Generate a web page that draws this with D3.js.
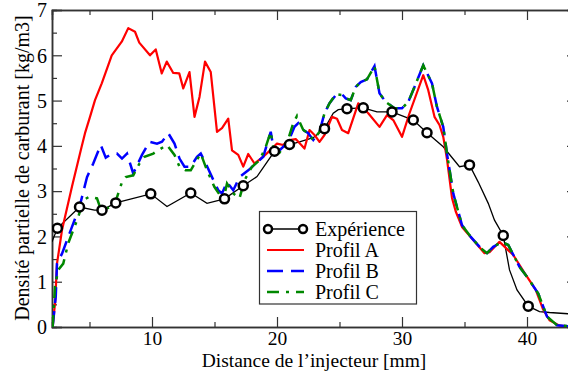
<!DOCTYPE html>
<html><head><meta charset="utf-8">
<script src="https://cdn.jsdelivr.net/npm/d3@7/dist/d3.min.js"></script>
<style>body{margin:0;background:#fff}svg{display:block}text{font-family:"Liberation Serif","DejaVu Serif",serif;fill:#000}</style>
</head><body><svg id="c" width="568" height="374"></svg>
<script>
const xTicksMajor = [10, 20, 30, 40];
const xTicksMinor = [5, 15, 25, 35];
const yTicksMajor = [0, 1, 2, 3, 4, 5, 6, 7];
const yTicksMinor = [0.5, 1.5, 2.5, 3.5, 4.5, 5.5, 6.5];
const seriesNames = ["Expérience", "Profil A", "Profil B", "Profil C"];

const expLine = [[2.0,1.88],[2.43,2.18],[4.2,2.65],[5.4,2.58],[6.0,2.58],[7.1,2.74],[9.9,2.94],[11.2,2.66],[13.1,2.96],[14.4,2.73],[15.8,2.83],[17.3,3.12],[18.4,3.32],[19.8,3.88],[21.0,4.03],[21.8,4.09],[22.9,4.18],[23.8,4.38],[24.5,4.72],[24.9,4.8],[25.6,4.82],[26.9,4.84],[28.0,4.75],[29.2,4.75],[30.9,4.57],[32.0,4.29],[33.3,3.98],[34.6,3.54],[35.4,3.58],[36.1,3.2],[36.9,2.73],[37.4,2.36],[38.1,2.02],[38.6,1.26],[39.2,0.82],[40.1,0.46],[41.0,0.34],[41.8,0.32],[44,0.28]];
const expMarkers = [[2.43,2.18],[4.2,2.65],[6.0,2.58],[7.1,2.74],[9.9,2.94],[13.1,2.96],[15.8,2.83],[17.3,3.12],[19.8,3.88],[21.0,4.03],[23.8,4.38],[25.6,4.82],[26.9,4.84],[29.2,4.75],[30.9,4.57],[32.0,4.29],[35.4,3.58],[38.1,2.02],[40.1,0.46]];

const profilA = [[2.05,0],[2.25,0.55],[2.4,1.4],[2.8,2.14],[3.6,3.1],[4.37,3.98],[4.64,4.28],[5.04,4.64],[5.44,5.01],[5.98,5.38],[6.78,6.0],[7.58,6.3],[8.1,6.6],[8.64,6.52],[8.98,6.28],[9.84,6.0],[10.3,6.13],[10.78,5.6],[11.18,5.86],[11.7,5.61],[12.18,5.6],[12.5,5.27],[13.0,5.63],[13.4,4.64],[13.8,5.08],[14.24,5.86],[14.7,5.63],[15.2,4.31],[15.6,4.39],[16.1,4.6],[16.4,3.9],[16.9,3.8],[17.3,3.54],[17.7,3.82],[18.2,3.61],[18.9,3.76],[19.6,3.94],[20.0,4.05],[20.5,4.02],[21.0,4.13],[21.5,4.15],[22.2,3.94],[22.6,4.35],[23.0,4.24],[23.4,4.09],[23.8,4.24],[24.4,4.64],[24.8,4.6],[25.2,4.35],[25.7,4.28],[26.5,4.94],[27.3,4.72],[28.2,4.42],[28.8,4.68],[29.3,4.57],[30.0,4.2],[30.6,4.72],[31.7,5.56],[32.1,5.23],[32.6,4.64],[33.0,4.46],[33.3,4.2],[33.6,3.7],[34.0,2.85],[34.3,2.55],[34.8,2.21],[35.7,1.92],[36.6,1.63],[37.0,1.65],[37.8,1.88],[38.9,1.59],[40.0,1.11],[40.7,0.82],[41.3,0.38],[41.8,0.15],[42.6,0.03],[44,0]];

const profilB = [[2.05,0],[2.3,0.67],[2.4,1.4],[2.8,1.62],[3.5,2.14],[4.2,2.65],[4.8,3.31],[5.3,3.61],[5.9,4.02],[6.3,3.74],[6.8,3.83],[7.2,3.83],[7.6,3.72],[8.0,3.83],[8.5,3.39],[9.2,3.8],[9.8,4.09],[10.4,4.05],[10.8,4.09],[11.3,4.28],[11.8,4.05],[12.2,3.72],[12.6,3.54],[13.1,3.54],[13.6,3.76],[13.9,3.83],[14.3,3.61],[14.8,3.31],[15.3,3.02],[15.6,2.95],[16.0,3.2],[16.5,3.02],[17.0,3.31],[17.7,3.46],[18.3,3.61],[18.9,3.76],[19.5,4.31],[19.7,3.98],[20.2,3.9],[20.9,4.09],[21.4,4.42],[21.7,4.5],[22.1,4.35],[22.5,4.28],[22.9,4.13],[23.4,4.31],[23.8,4.72],[24.2,4.94],[24.7,5.12],[25.2,5.14],[25.5,5.05],[25.9,5.01],[26.3,5.3],[26.7,5.41],[27.2,5.47],[27.8,5.76],[28.2,5.16],[28.7,4.97],[29.4,4.83],[30.0,4.83],[30.5,4.97],[31.0,5.3],[31.7,5.78],[32.4,5.38],[32.8,4.86],[33.3,4.42],[33.6,3.83],[34.1,2.95],[34.4,2.65],[34.8,2.25],[35.5,1.99],[36.3,1.74],[36.8,1.63],[37.3,1.77],[38.0,1.88],[38.5,1.81],[39.4,1.33],[40.1,1.07],[40.9,0.74],[41.6,0.23],[42.4,0.04],[44,0]];

const profilC = [[2.05,0],[2.24,0.89],[2.5,1.26],[2.9,1.4],[3.3,1.85],[3.7,2.14],[4.1,2.43],[4.5,2.8],[5.0,2.88],[5.6,2.84],[5.9,2.6],[6.4,2.62],[7.0,2.69],[7.3,2.95],[7.6,3.2],[7.9,3.31],[8.5,3.35],[9.0,3.61],[9.4,3.76],[10.1,3.83],[10.6,3.92],[11.2,4.02],[11.8,3.8],[12.2,3.54],[12.7,3.46],[13.1,3.46],[13.5,3.65],[13.9,3.83],[14.4,3.46],[15.0,3.09],[15.7,2.8],[16.0,3.17],[16.5,2.95],[17.0,2.84],[17.4,3.24],[18.0,3.54],[18.6,3.68],[19.1,3.98],[19.5,4.31],[19.7,3.98],[20.2,3.85],[20.9,4.15],[21.3,4.5],[21.6,4.66],[22.1,4.35],[22.5,4.28],[22.9,4.13],[23.4,4.31],[23.8,4.72],[24.2,4.94],[24.7,5.14],[25.2,5.12],[25.5,5.05],[25.9,5.01],[26.3,5.3],[26.7,5.41],[27.2,5.47],[27.8,5.76],[28.2,5.16],[28.7,4.97],[29.4,4.83],[30.0,4.83],[30.5,4.97],[31.0,5.3],[31.7,5.78],[32.4,5.38],[32.8,4.86],[33.3,4.42],[33.6,3.83],[34.1,2.95],[34.4,2.65],[34.8,2.25],[35.5,1.99],[36.3,1.74],[36.8,1.63],[37.3,1.77],[38.0,1.88],[38.5,1.81],[39.4,1.33],[40.1,1.07],[40.9,0.74],[41.6,0.23],[42.4,0.04],[44,0]];

const svg = d3.select("#c");
const L = 52, R = 577, T = 10, B = 327;
const x = d3.scaleLinear().domain([2, 44]).range([L, R]);
const y = d3.scaleLinear().domain([0, 7]).range([B, T]);
const axisColor = "#333";

svg.append("defs").append("clipPath").attr("id","pc").append("rect")
  .attr("x", L).attr("y", T - 2).attr("width", R - L).attr("height", B - T + 2);

const gB = svg.append("g").attr("transform", `translate(0,${B})`)
  .call(d3.axisBottom(x).tickValues(xTicksMajor).tickSize(-10).tickPadding(4).tickFormat(d3.format("d")));
const gBm = svg.append("g").attr("transform", `translate(0,${B})`)
  .call(d3.axisBottom(x).tickValues(xTicksMinor).tickSize(-5).tickFormat(""));
const gT = svg.append("g").attr("transform", `translate(0,${T})`)
  .call(d3.axisTop(x).tickValues(xTicksMajor).tickSize(-10).tickFormat(""));
const gTm = svg.append("g").attr("transform", `translate(0,${T})`)
  .call(d3.axisTop(x).tickValues(xTicksMinor).tickSize(-5).tickFormat(""));
const gL = svg.append("g").attr("transform", `translate(${L},0)`)
  .call(d3.axisLeft(y).tickValues(yTicksMajor).tickSize(-10).tickPadding(5).tickFormat(d3.format("d")));
const gLm = svg.append("g").attr("transform", `translate(${L},0)`)
  .call(d3.axisLeft(y).tickValues(yTicksMinor).tickSize(-5).tickFormat(""));
const gR = svg.append("g").attr("transform", `translate(${R},0)`)
  .call(d3.axisRight(y).tickValues(yTicksMajor).tickSize(-10).tickFormat(""));
const gRm = svg.append("g").attr("transform", `translate(${R},0)`)
  .call(d3.axisRight(y).tickValues(yTicksMinor).tickSize(-5).tickFormat(""));
[gB,gBm,gT,gTm,gL,gLm,gR,gRm].forEach(g => {
  g.selectAll("path.domain").attr("stroke", axisColor).attr("stroke-width", 1.5);
  g.selectAll(".tick line").attr("stroke", axisColor).attr("stroke-width", 1.2);
  g.selectAll("text").attr("font-family", "Liberation Serif").attr("font-size", 20).attr("fill", "#000");
});
gL.selectAll("text").attr("dy", "0.34em");
gB.selectAll("text").attr("font-size", 19.5).attr("dy", "0.72em");

const line = d3.line().x(d => x(d[0])).y(d => y(d[1]));
const plot = svg.append("g").attr("clip-path", "url(#pc)");

plot.append("path").datum(expLine).attr("d", line).attr("fill","none")
  .attr("stroke","#000").attr("stroke-width",1.3);
plot.append("path").datum(profilA).attr("d", line).attr("fill","none")
  .attr("stroke","#ff0000").attr("stroke-width",2.2).attr("stroke-linejoin","round");
plot.append("path").datum(profilB).attr("d", line).attr("fill","none")
  .attr("stroke","#0000ff").attr("stroke-width",2.5).attr("stroke-dasharray","16,8");
plot.append("path").datum(profilC).attr("d", line).attr("fill","none")
  .attr("stroke","#008800").attr("stroke-width",2.5).attr("stroke-dasharray","12,7,3,7");
plot.selectAll("circle.m").data(expMarkers).join("circle").attr("class","m")
  .attr("cx", d => x(d[0])).attr("cy", d => y(d[1])).attr("r", 4.5)
  .attr("fill","#fff").attr("stroke","#000").attr("stroke-width",2.5);

svg.append("text").attr("x", 314).attr("y", 367).attr("text-anchor","middle")
  .attr("font-size", 19.5).text("Distance de l\u2019injecteur [mm]");
svg.append("text").attr("transform", "translate(29,168) rotate(-90)").attr("text-anchor","middle")
  .attr("font-size", 20).text("Densité partielle de carburant [kg/m3]");

const lg = svg.append("g");
lg.append("rect").attr("x", 259.5).attr("y", 211.5).attr("width", 157).attr("height", 92.5)
  .attr("fill","#fff").attr("stroke", axisColor).attr("stroke-width", 1.2);
const rowsY = [229, 250, 271, 292];
const lgStyles = [
  {c:"#000", w:1.3, d:null},
  {c:"#ff0000", w:2.2, d:null},
  {c:"#0000ff", w:2.5, d:"16,8"},
  {c:"#008800", w:2.5, d:"12,7,3,7"}
];
seriesNames.forEach((n, i) => {
  const s = lgStyles[i];
  lg.append("line").attr("x1", 267).attr("x2", 304).attr("y1", rowsY[i]).attr("y2", rowsY[i])
    .attr("stroke", s.c).attr("stroke-width", s.w).attr("stroke-dasharray", s.d);
  if (i === 0) {
    [268, 303].forEach(cx => lg.append("circle").attr("cx", cx).attr("cy", rowsY[i]).attr("r", 4)
      .attr("fill","#fff").attr("stroke","#000").attr("stroke-width",2.5));
  }
  lg.append("text").attr("x", 315).attr("y", rowsY[i] + 7).attr("font-size", 20).text(n);
});
</script></body></html>
